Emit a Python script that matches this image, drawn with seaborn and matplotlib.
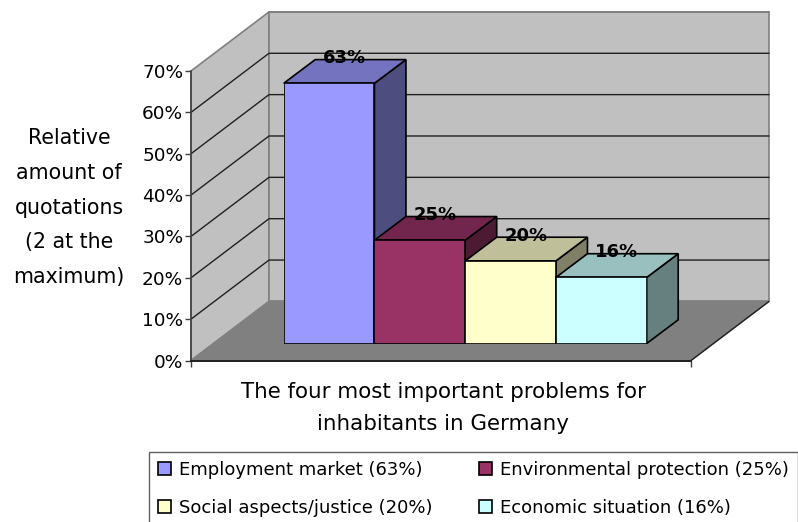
import matplotlib
matplotlib.use("Agg")
import matplotlib.pyplot as plt
import pandas as pd
import seaborn as sns
from matplotlib.colors import to_rgb
from matplotlib.patches import Polygon
from matplotlib.ticker import PercentFormatter

# ---- data ----
categories = ["Employment market", "Environmental protection",
              "Social aspects/justice", "Economic situation"]
values = [0.63, 0.25, 0.20, 0.16]
colors = ["#9999FF", "#993366", "#FFFFCC", "#CCFFFF"]
y_ticks = [0, 0.1, 0.2, 0.3, 0.4, 0.5, 0.6, 0.7]
x_title = "The four most important problems for\ninhabitants in Germany"
y_title = "Relative\namount of\nquotations\n(2 at the\nmaximum)"

W, H = 798, 522
sns.set_style("white")
plt.rcParams["font.family"] = ["DejaVu Sans"]
plt.rcParams["text.color"] = "black"
plt.rcParams["axes.labelcolor"] = "black"
FS = 13.3


def rect(l, t, r, b):
    return [l / W, 1 - b / H, (r - l) / W, (b - t) / H]


fig = plt.figure(figsize=(W / 100, H / 100), dpi=100)

# Frame axes: front plane of the 3D box, x in pixels
fr = fig.add_axes(rect(191, 71, 691, 360.5))
fr.set_xlim(0, 500)
fr.set_ylim(0, 0.7)
dx, dy = 78, 59 / 413
top = 0.7
wall_kw = dict(clip_on=False, lw=1.2, edgecolor="#808080")
fr.add_patch(Polygon([(0, 0), (dx, dy), (dx, top + dy), (0, top)], facecolor="#C0C0C0", zorder=1, **wall_kw))
fr.add_patch(Polygon([(dx, dy), (500 + dx, dy), (500 + dx, top + dy), (dx, top + dy)], facecolor="#C0C0C0", zorder=1, **wall_kw))
fr.add_patch(Polygon([(0, 0), (500, 0), (500 + dx, dy), (dx, dy)], facecolor="#808080", edgecolor="#808080", lw=1, clip_on=False, zorder=2))
fr.plot([500, 500 + dx], [0, dy], color="#202020", lw=1, clip_on=False, zorder=3)
for t in y_ticks[1:-1]:
    fr.plot([0, dx, 500 + dx], [t, t + dy, t + dy], color="#202020", lw=1, clip_on=False, zorder=3)
fr.plot([dx, 500 + dx], [top + dy, top + dy], color="#808080", lw=1.2, clip_on=False, zorder=3)
fr.patch.set_alpha(0)
sns.despine(ax=fr, top=True, right=True)
fr.spines["left"].set_color("#404040")
fr.spines["bottom"].set_color("#202020")
fr.spines["left"].set_linewidth(1.2)
fr.spines["bottom"].set_linewidth(1.4)
for s in fr.spines.values():
    s.set_zorder(4)
fr.set_yticks(y_ticks)
fr.yaxis.set_major_formatter(PercentFormatter(1, decimals=0))
fr.set_xticks([0, 500])
fr.set_xticklabels([])
fr.tick_params(axis="both", direction="out", length=4.5, width=1, color="#404040",
               left=True, bottom=True, labelsize=FS, pad=1.0, labelcolor="black")
fr.set_xlabel(x_title, fontsize=15.4, linespacing=1.77, va="center", ha="center")
fr.xaxis.set_label_coords(0.504, -(408 - 360.5) / 289.5)
fr.set_ylabel(y_title, fontsize=14.8, rotation=0, ha="center", va="center", linespacing=1.93)
fr.yaxis.set_label_coords((69 - 191) / 500, 1 - (207.5 - 71) / 289.5)

# Bar axes: front faces of the bars drawn by seaborn
ax = fig.add_axes(rect(283.7, 343.5 - 289.1, 646.7, 343.5))
ax.patch.set_alpha(0)
df = pd.DataFrame({
    "category": categories,
    "value": values,
    "label": [f"{c} ({v:.0%})" for c, v in zip(categories, values)],
})
sns.barplot(data=df, x="category", y="value", hue="label", palette=colors, dodge=False,
            width=1.0, edgecolor="black", linewidth=1.2, saturation=1, ax=ax, zorder=6)
ax.set_xlim(-0.5, 3.5)
ax.set_ylim(0, 0.7)
ax.set_axis_off()

bdx, bdy = 31.5 / 90.75, 23.7 / 413


def shade(c, f):
    return tuple(f * x for x in to_rgb(c))


for i, (v, c) in enumerate(zip(values, colors)):
    l, r = i - 0.5, i + 0.5
    ax.add_patch(Polygon([(r, 0), (r + bdx, bdy), (r + bdx, v + bdy), (r, v)],
                         facecolor=shade(c, 0.5), edgecolor="black", lw=1.2, clip_on=False, zorder=3 + i * 0.1))
    ax.add_patch(Polygon([(l, v), (l + bdx, v + bdy), (r + bdx, v + bdy), (r, v)],
                         facecolor=shade(c, 0.75), edgecolor="black", lw=1.2, clip_on=False, zorder=3.05 + i * 0.1))
    ax.annotate(f"{v:.0%}", xy=(i, v), xytext=(11.2, 18.2), textcoords="offset points",
                ha="center", va="center", fontsize=13, fontweight="bold", color="black",
                annotation_clip=False, zorder=10)

handles, labels = ax.get_legend_handles_labels()
order = [0, 2, 1, 3]
ax.legend([handles[k] for k in order], [labels[k] for k in order], ncol=2,
          loc="upper left", bbox_to_anchor=(149 / W, 1 - 452 / H), bbox_transform=fig.transFigure,
          borderaxespad=0, fancybox=False, framealpha=1, edgecolor="#606060", frameon=True,
          fontsize=13.0, handlelength=0.72, handleheight=0.72, handletextpad=0.45,
          columnspacing=2.55, labelspacing=1.1, borderpad=0.5, title=None)

fig.savefig("out.png", dpi=100)
